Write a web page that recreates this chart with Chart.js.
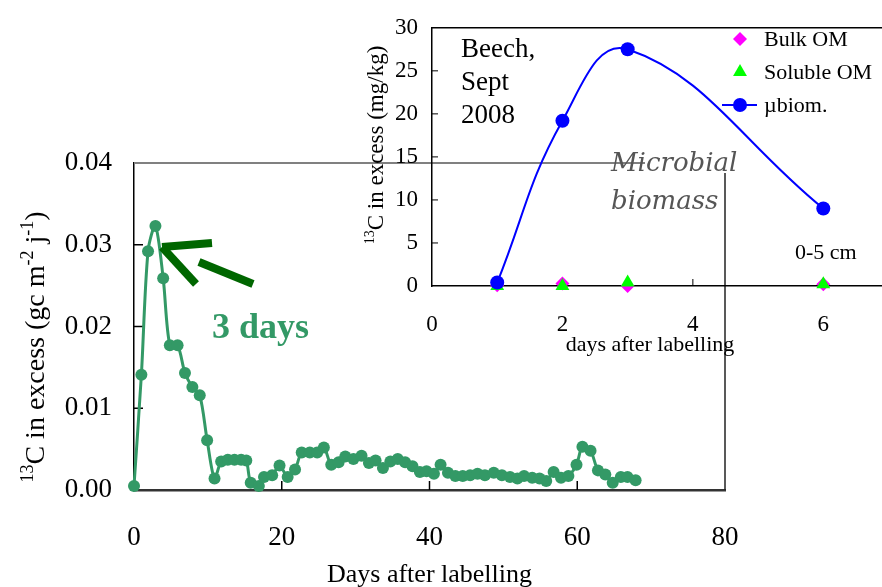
<!DOCTYPE html>
<html>
<head>
<meta charset="utf-8">
<script src="https://cdn.jsdelivr.net/npm/chart.js@4.4.1/dist/chart.umd.min.js"></script>
<style>
  html, body { margin: 0; padding: 0; background: #fff; }
  #wrap { position: relative; width: 882px; height: 587px; }
  #wrap canvas { position: absolute; left: 0; top: 0; }
</style>
</head>
<body>
<div id="wrap">
  <canvas id="mainChart" width="882" height="587"></canvas>
  <canvas id="insetChart" width="882" height="587"></canvas>
</div>
<script>
// main chart: 13C flux after labelling
const days = [0, 1, 1.9, 2.9, 3.95, 4.85, 5.9, 6.9, 7.9, 8.9, 9.9, 10.9, 11.8, 12.7, 13.6, 14.5, 15.2, 15.8,
  16.9, 17.6, 18.7, 19.7, 20.8, 21.8, 22.7, 23.8, 24.8, 25.7, 26.7, 27.7, 28.6, 29.7, 30.8, 31.8, 32.7,
  33.7, 34.7, 35.7, 36.7, 37.7, 38.7, 39.6, 40.6, 41.5, 42.5, 43.5, 44.5, 45.5, 46.5, 47.5, 48.7, 49.8,
  50.9, 51.9, 52.8, 53.9, 54.9, 55.8, 56.8, 57.8, 58.8, 59.9, 60.7, 61.8, 62.8, 63.8, 64.8, 65.9, 66.8, 67.9];
const excess13C = [0.0005, 0.0141, 0.0292, 0.0323, 0.0259, 0.0177, 0.0177, 0.0143, 0.0126, 0.0116, 0.0061,
  0.0014, 0.0035, 0.0037, 0.0037, 0.0037, 0.0036, 0.0009, 0.0005, 0.0016, 0.0018, 0.0030, 0.0016, 0.0025,
  0.0046, 0.0046, 0.0046, 0.0052, 0.0031, 0.0034, 0.0041, 0.0038, 0.0042, 0.0033, 0.0036, 0.0027, 0.0035,
  0.0038, 0.0034, 0.0029, 0.0022, 0.0023, 0.0020, 0.0031, 0.0021, 0.0017, 0.0017, 0.0018, 0.0020, 0.0018,
  0.0021, 0.0018, 0.0016, 0.0014, 0.0017, 0.0015, 0.0014, 0.0011, 0.0022, 0.0015, 0.0017, 0.0031, 0.0053,
  0.0048, 0.0024, 0.0019, 0.0009, 0.0016, 0.0016, 0.0012];
const mainTicksX = [0, 20, 40, 60, 80];
const mainTicksY = [0, 0.01, 0.02, 0.03, 0.04];

// inset: Beech, Sept 2008, 0-5 cm
const insetDays = [1, 2, 3, 6];
const bulkOM = [0.1, 0.3, 0, 0.2];
const solubleOM = [0, 0, 0.4, 0.2];
const microBiomass = [0.4, 19.2, 27.5, 9.0];
const insetTicksX = [0, 2, 4, 6];
const insetTicksY = [0, 5, 10, 15, 20, 25, 30];

const SERIF = '"Liberation Serif", "Times New Roman", serif';
Chart.defaults.font.family = SERIF;
Chart.defaults.color = '#000';

// draw a line of text with superscripts, centred on (x, y), rotated
function richText(ctx, parts, x, y, angle) {
  ctx.save();
  ctx.translate(x, y);
  ctx.rotate(angle);
  ctx.textBaseline = 'alphabetic';
  ctx.textAlign = 'left';
  let total = 0;
  parts.forEach(p => { ctx.font = p[1] + 'px ' + SERIF; total += ctx.measureText(p[0]).width; });
  let cx = -total / 2;
  parts.forEach(p => {
    ctx.font = p[1] + 'px ' + SERIF;
    ctx.fillText(p[0], cx, -p[2]);
    cx += ctx.measureText(p[0]).width;
  });
  ctx.restore();
}

function line(ctx, x1, y1, x2, y2, color, w) {
  ctx.beginPath();
  ctx.moveTo(x1, y1);
  ctx.lineTo(x2, y2);
  ctx.strokeStyle = color;
  ctx.lineWidth = w;
  ctx.stroke();
}

const mainDecor = {
  id: 'mainDecor',
  beforeDatasetsDraw(chart) {
    const { ctx, chartArea: a, scales: { x, y } } = chart;
    ctx.save();
    line(ctx, a.left, a.top, a.right, a.top, '#808080', 2);
    line(ctx, a.right, a.top, a.right, a.bottom, '#222', 1.5);
    mainTicksY.slice(1, -1).forEach(v => line(ctx, a.left, y.getPixelForValue(v), a.left + 9, y.getPixelForValue(v), '#000', 1.5));
    mainTicksX.slice(1, -1).forEach(v => line(ctx, x.getPixelForValue(v), a.bottom, x.getPixelForValue(v), a.bottom - 9, '#000', 1.5));
    ctx.restore();
  },
  afterDraw(chart) {
    const { ctx, chartArea: a } = chart;
    ctx.save();
    ctx.fillStyle = '#000';
    ctx.font = '26px ' + SERIF;
    ctx.textAlign = 'center';
    ctx.textBaseline = 'alphabetic';
    ctx.fillText('Days after labelling', (a.left + a.right) / 2, 582);
    richText(ctx, [['13', 18, 11], ['C in excess (gc m', 28, 0], ['-2', 18, 11], [' j', 28, 0], ['-1', 18, 11], [')', 28, 0]],
      44, 347, -Math.PI / 2);

    // arrow pointing to the 3-day peak
    ctx.lineCap = 'butt';
    line(ctx, 162, 247, 212, 243, '#006600', 8);
    line(ctx, 162, 247, 196, 284, '#006600', 8);
    line(ctx, 199, 262, 253, 284, '#006600', 8);

    ctx.fillStyle = '#339966';
    ctx.font = 'bold 36px ' + SERIF;
    ctx.textAlign = 'left';
    ctx.fillText('3 days', 212, 338);
    ctx.restore();
  }
};

new Chart(document.getElementById('mainChart'), {
  type: 'line',
  data: {
    datasets: [{
      label: '13C excess',
      data: days.map((d, i) => ({ x: d, y: excess13C[i] })),
      borderColor: '#339966',
      backgroundColor: '#339966',
      borderWidth: 3,
      pointRadius: 6,
      pointBorderWidth: 0,
      tension: 0.3,
      clip: false
    }]
  },
  options: {
    responsive: false,
    animation: false,
    events: [],
    layout: { autoPadding: false, padding: { left: 0, right: 157, top: 163, bottom: 0 } },
    plugins: { legend: { display: false }, tooltip: { enabled: false } },
    scales: {
      x: {
        type: 'linear', min: 0, max: 80,
        afterBuildTicks: s => { s.ticks = mainTicksX.map(v => ({ value: v })); },
        afterFit: s => { s.height = 97; },
        grid: { display: false, drawTicks: false },
        border: { display: true, color: '#333', width: 2.5 },
        ticks: { padding: 32, font: { size: 27 }, color: '#000' }
      },
      y: {
        type: 'linear', min: 0, max: 0.04,
        afterBuildTicks: s => { s.ticks = mainTicksY.map(v => ({ value: v })); },
        afterFit: s => { s.width = 134; },
        grid: { display: false, drawTicks: false },
        border: { display: true, color: '#000', width: 1.5 },
        ticks: { padding: 22, font: { size: 27 }, color: '#000', callback: v => v.toFixed(2) }
      }
    }
  },
  plugins: [mainDecor]
});

const insetDecor = {
  id: 'insetDecor',
  beforeDatasetsDraw(chart) {
    const { ctx, chartArea: a, scales: { x, y } } = chart;
    ctx.save();
    line(ctx, a.left, a.top, a.right, a.top, '#000', 1.5);
    insetTicksY.slice(1, -1).forEach(v => line(ctx, a.left, y.getPixelForValue(v), a.left + 6, y.getPixelForValue(v), '#000', 1));
    insetTicksX.slice(1).forEach(v => line(ctx, x.getPixelForValue(v), a.bottom, x.getPixelForValue(v), a.bottom - 7, '#000', 1));

    // white box behind the "Microbial biomass" caption
    ctx.fillStyle = '#fff';
    ctx.fillRect(645, 150, 90, 23);
    ctx.restore();
  },
  afterDraw(chart) {
    const { ctx } = chart;
    ctx.save();
    ctx.fillStyle = '#000';
    ctx.textBaseline = 'alphabetic';
    ctx.textAlign = 'left';
    ctx.font = '27px ' + SERIF;
    ['Beech,', 'Sept', '2008'].forEach((t, i) => ctx.fillText(t, 461, 57 + i * 33));
    ctx.font = '22px ' + SERIF;
    ctx.fillText('0-5 cm', 795, 259);
    ctx.textAlign = 'center';
    ctx.fillText('days after labelling', 650, 351);
    richText(ctx, [['13', 14, 9], ['C in excess (mg/kg)', 23, 0]], 383, 145, -Math.PI / 2);

    ctx.fillStyle = '#555';
    ctx.textAlign = 'left';
    ctx.font = 'italic 26px "DejaVu Serif", serif';
    ctx.fillText('Microbial', 611, 171);
    ctx.fillText('biomass', 611, 209);

    // legend
    ctx.font = '22px ' + SERIF;
    ctx.textBaseline = 'middle';
    const legendY = [39, 72, 105];
    chart.data.datasets.forEach((ds, i) => {
      const ly = legendY[i];
      if (ds.showLine !== false) line(ctx, 722, ly, 757, ly, ds.borderColor, ds.borderWidth);
      ctx.fillStyle = ds.backgroundColor;
      ctx.strokeStyle = ds.borderColor;
      Chart.helpers.drawPoint(ctx, { pointStyle: ds.pointStyle, radius: ds.pointRadius, borderWidth: 0 }, 740, ly);
      ctx.fillStyle = '#000';
      ctx.fillText(ds.label, 764, ly + 1);
    });
    ctx.restore();
  }
};

new Chart(document.getElementById('insetChart'), {
  type: 'line',
  data: {
    datasets: [
      {
        label: 'Bulk OM',
        data: insetDays.map((d, i) => ({ x: d, y: bulkOM[i] })),
        showLine: false, pointStyle: 'rectRot', pointRadius: 7,
        backgroundColor: '#ff00ff', borderColor: '#ff00ff', pointBorderWidth: 0, order: 3, clip: false
      },
      {
        label: 'Soluble OM',
        data: insetDays.map((d, i) => ({ x: d, y: solubleOM[i] })),
        showLine: false, pointStyle: 'triangle', pointRadius: 8,
        backgroundColor: '#00ff00', borderColor: '#00ff00', pointBorderWidth: 0, order: 2, clip: false
      },
      {
        label: '\u00b5biom.',
        data: insetDays.map((d, i) => ({ x: d, y: microBiomass[i] })),
        pointStyle: 'circle', pointRadius: 7, borderWidth: 2, tension: 0.42,
        backgroundColor: '#0000ff', borderColor: '#0000ff', pointBorderWidth: 0, order: 1, clip: false
      }
    ]
  },
  options: {
    responsive: false,
    animation: false,
    events: [],
    layout: { autoPadding: false, padding: { left: 0, right: 0, top: 16, bottom: 0 } },
    plugins: { legend: { display: false }, tooltip: { enabled: false } },
    scales: {
      x: {
        type: 'linear', min: 0, max: 6.9,
        afterBuildTicks: s => { s.ticks = insetTicksX.map(v => ({ value: v })); },
        afterFit: s => { s.height = 301; },
        grid: { display: false, drawTicks: false },
        border: { display: true, color: '#000', width: 1.5 },
        ticks: { padding: 25, font: { size: 23 }, color: '#000' }
      },
      y: {
        type: 'linear', min: 0, max: 30,
        afterBuildTicks: s => { s.ticks = insetTicksY.map(v => ({ value: v })); },
        afterFit: s => { s.width = 432; },
        grid: { display: false, drawTicks: false },
        border: { display: true, color: '#000', width: 1.5 },
        ticks: { padding: 14, font: { size: 23 }, color: '#000' }
      }
    }
  },
  plugins: [insetDecor]
});
</script>
</body>
</html>
